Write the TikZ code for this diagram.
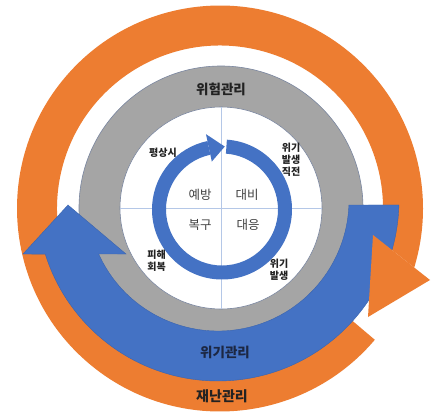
\documentclass[tikz,border=0pt]{standalone}
\usepackage{fontspec}
\newfontfamily\kr{Noto Sans CJK KR}
\definecolor{ob}{HTML}{ED7D31}
\definecolor{bb}{HTML}{4472C4}
\definecolor{bbl}{HTML}{3A64AE}
\definecolor{gr}{HTML}{A5A5A5}
\definecolor{grline}{HTML}{7A86A0}
\definecolor{cross}{HTML}{B4C7E7}
\definecolor{navy}{HTML}{1C2743}
\definecolor{txt}{HTML}{222222}
\definecolor{txtm}{HTML}{404040}
\begin{document}
\begin{tikzpicture}[x=1pt,y=-1pt,
  big/.style={font=\kr\bfseries\fontsize{13.5}{14}\selectfont, text=txt, inner sep=0pt},
  small/.style={font=\kr\bfseries\fontsize{10}{12}\selectfont, text=txt, inner sep=0pt, align=center},
  mid/.style={font=\kr\fontsize{12.5}{13}\selectfont, text=txtm, inner sep=0pt}]
\useasboundingbox (0,0) rectangle (433,412);
\fill[white] (0,0) rectangle (433,412);
% orange shaft
\fill[ob, shift={(220,208.5)}] (40.3:203) arc[start angle=40.3, end angle=376.9, radius=203]
   -- (371.3:163) arc[start angle=371.3, end angle=40.3, radius=163] -- cycle;
% gray ring
\fill[gr, draw=grline, line width=0.6pt] (221,208) circle[radius=142];
\fill[white, draw=grline, line width=0.6pt] (221,208) circle[radius=101];
% cross lines
\draw[cross, line width=0.7pt] (221,107) -- (221,309);
\draw[cross, line width=0.7pt] (120,208) -- (322,208);
% blue arrow
\fill[bb, draw=bbl, line width=0.4pt, shift={(218,200)}] (1.58:181) arc[start angle=1.58, end angle=162.6, radius=181]
   -- (-195,54) -- (-150,5) -- (-92,54)
   -- (155.66:131) arc[start angle=155.66, end angle=2.19, radius=131] -- cycle;
% orange head
\fill[ob] (373,235) -- (430,280) -- (368,317) -- cycle;
% inner arrow
\fill[bb, shift={(222,209.5)}] (-86:70) arc[start angle=-86, end angle=258, radius=70]
   -- (258:56) arc[start angle=258, end angle=-86, radius=56] -- cycle;
\fill[bb, shift={(222,209.5)}] (258:77) -- (272.5:63) -- (258:49) -- cycle;
% texts
\node[big] (wh) at (221,89) {위험관리};
\node[big, text=navy] (wg) at (225,352) {위기관리};
\node[big, font=\kr\bfseries\fontsize{14}{14}\selectfont] (jn) at (222,396) {재난관리};
\node[small] (ps) at (163,153) {평상시};
\node[small] (jj) at (291,160) {위기\\발생\\직전};
\node[small] (bs) at (279,270) {위기\\발생};
\node[small] (ph) at (156.5,261) {피해\\회복};
\node[mid] (yb) at (200,195) {예방};
\node[mid] (db) at (247,195) {대비};
\node[mid] (bg) at (200,225) {복구};
\node[mid] (de) at (248,225) {대응};
\end{tikzpicture}
\end{document}
